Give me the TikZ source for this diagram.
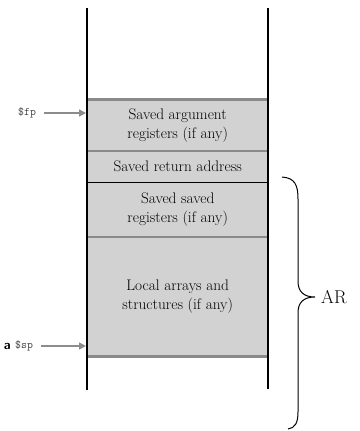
\documentclass[tikz,border=0pt]{standalone}
\usetikzlibrary{arrows.meta}
\definecolor{cellfill}{HTML}{D2D2D2}
\definecolor{sepgrey}{HTML}{8A8A8A}
\definecolor{arrowgrey}{HTML}{8C8C8C}
\begin{document}
\begin{tikzpicture}[x=1pt,y=-1pt,
  cell/.style={fill=cellfill,draw=none,minimum width=181pt,inner sep=0pt,anchor=north west,
    align=center,font=\fontsize{15.3}{19}\selectfont},
  sep/.style={draw=sepgrey,line width=2pt},
  thinsep/.style={draw=black,line width=0.9pt},
  wall/.style={draw=black,line width=1.8pt},
  ptr/.style={draw=arrowgrey,line width=1.5pt,-{Triangle[length=7pt,width=7pt]}},
  reglbl/.style={font=\fontsize{11.5}{13}\ttfamily,text=black!75,inner sep=0pt,anchor=west}
]
\useasboundingbox (0,0) rectangle (359,431);
% cells
\node[cell,minimum height=52pt] (c1) at (87,99) {Saved argument\\registers (if any)};
\node[cell,minimum height=31pt] (c2) at (87,151) {Saved return address};
\node[cell,minimum height=55pt] (c3) at (87,182) {Saved saved\\registers (if any)};
\node[cell,minimum height=119pt] (c4) at (87,237) {Local arrays and\\structures (if any)};
% separators
\draw[sep,line width=3pt] (c1.north west) -- (c1.north east);
\draw[sep] (c2.north west) -- (c2.north east);
\draw[thinsep] (c3.north west) -- (c3.north east);
\draw[sep] (c4.north west) -- (c4.north east);
\draw[sep,line width=3pt] (c4.south west) -- (c4.south east);
% walls
\coordinate (lt) at (87,8);
\coordinate (lb) at (87,390);
\coordinate (rt) at (268,8);
\coordinate (rb) at (268,389);
\draw[wall] (lt) -- (lb);
\draw[wall] (rt) -- (rb);
% pointers
\node[reglbl] (fp) at (18,113) {\$fp};
\node[reglbl] (sp) at (15,346) {\$sp};
\node[font=\fontsize{13}{15}\sffamily\bfseries,inner sep=0pt,anchor=east] (a) at ([xshift=-4pt]sp.west) {a};
\coordinate (fpend) at (86,113);
\coordinate (spend) at (86,346);
\draw[ptr] ([xshift=8pt]fp.east) -- (fpend);
\draw[ptr] ([xshift=8pt]sp.east) -- (spend);
% brace
\coordinate (bt) at (282,177);
\coordinate (btip) at (315,297);
\coordinate (bb) at (288,429);
\draw[line width=1pt] (bt) .. controls (295,178) and (298,185) .. (298,199) -- (298,281)
  .. controls (298,292) and (304,297) .. (btip)
  .. controls (304,297) and (298,302) .. (298,313) -- (298,412)
  .. controls (298,423) and (295,428) .. (bb);
\node[font=\fontsize{18.5}{22}\selectfont,anchor=west,inner sep=0pt] (ar) at (321,297) {AR};
\end{tikzpicture}
\end{document}
